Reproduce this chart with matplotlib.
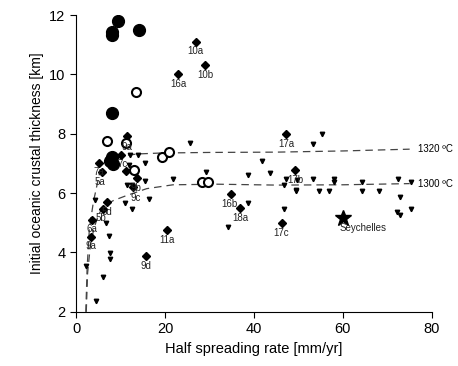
import numpy as np
import matplotlib
matplotlib.use("Agg")
import matplotlib.pyplot as plt

plt.rcParams['font.family'] = ['Liberation Sans', 'DejaVu Sans']

# filled circles
dot_x = [9.4, 8.0, 8.1, 14.2, 8.1, 7.6, 8.0, 8.2]
dot_y = [11.8, 11.44, 11.32, 11.5, 8.7, 7.08, 7.2, 6.98]

# open circles
ring_x = [6.9, 13.5, 11.2, 13.1, 19.3, 20.9, 28.3, 29.7]
ring_y = [7.77, 9.4, 7.68, 6.78, 7.21, 7.38, 6.38, 6.38]

# diamonds
dia_x = [26.9, 29.0, 23.0, 47.3, 49.2, 34.8, 36.9, 46.2, 20.4, 15.7,
         3.4, 3.7, 6.1, 7.0, 5.9, 5.2, 10.0, 11.5, 11.2, 13.6, 12.9]
dia_y = [11.1, 10.3, 10.0, 7.98, 6.79, 5.97, 5.49, 4.98, 4.77, 3.87,
         4.52, 5.08, 5.48, 5.69, 6.72, 7.02, 7.3, 7.94, 6.74, 6.52, 6.21]

# small triangles
tri_x = [25.7, 55.4, 53.3, 41.7, 38.7, 43.7, 29.2, 47.2, 49.6, 53.3, 58.0, 58.0,
         64.2, 72.3, 75.4, 46.8, 49.4, 54.7, 56.9, 64.2, 68.1, 72.8, 38.7, 46.8,
         75.4, 72.1, 72.8, 34.2, 21.9, 11.4, 12.5, 15.5, 11.0, 12.5, 16.3, 4.3,
         6.7, 7.3, 7.6, 7.6, 6.1, 4.6, 2.2, 12.1, 14.0, 12.0, 15.5, 49.4]
tri_y = [7.7, 7.98, 7.66, 7.07, 6.6, 6.69, 6.71, 6.48, 6.45, 6.48, 6.48, 6.37,
         6.37, 6.48, 6.37, 6.26, 6.07, 6.07, 6.07, 6.07, 6.07, 5.86, 5.67, 5.47,
         5.47, 5.36, 5.27, 4.85, 6.46, 6.27, 6.27, 6.41, 5.66, 5.47, 5.8, 5.76,
         4.98, 4.57, 3.97, 3.78, 3.17, 2.35, 3.55, 7.28, 7.28, 6.95, 7.0, 6.09]

# model curves
c1320_x = [2.2, 2.5, 3.0, 3.9, 5.4, 6.9, 9.9, 14, 19, 30, 45, 60, 75]
c1320_y = [2.0, 3.5, 4.8, 5.7, 6.75, 6.95, 7.25, 7.32, 7.35, 7.37, 7.38, 7.42, 7.48]
c1300_x = [2.3, 2.6, 3.2, 4.0, 5.0, 6.1, 8.4, 11.4, 15.9, 21.8, 31.6, 45, 60, 75]
c1300_y = [2.0, 3.3, 4.2, 4.8, 5.25, 5.55, 5.75, 5.92, 6.15, 6.28, 6.3, 6.27, 6.28, 6.32]

# point labels
lab_text = ['10a', '10b', '16a', '17a', '17b', '16b', '18a', '17c', '11a', '9d',
            '9a', '6a', '5b', '5d', '7a', '5a', '7c', '9a', '9b', '9c']
lab_x = [26.9, 29.1, 23.0, 47.3, 49.4, 34.4, 36.9, 46.2, 20.5, 15.7,
         3.4, 3.6, 5.7, 6.9, 5.1, 5.4, 10.4, 11.4, 13.5, 13.3]
lab_y = [10.79, 9.97, 9.69, 7.67, 6.45, 5.64, 5.15, 4.66, 4.43, 3.53,
         4.23, 4.79, 5.15, 5.37, 6.72, 6.38, 6.98, 7.56, 6.16, 5.82]

star_x, star_y = 60.1, 5.17

fig = plt.figure(figsize=(4.58, 3.66), dpi=100)
ax = fig.add_axes([0.166, 0.148, 0.777, 0.811])

ax.plot(c1320_x, c1320_y, ls=(0, (6, 4)), color='#444444', lw=0.9)
ax.plot(c1300_x, c1300_y, ls=(0, (6, 4)), color='#444444', lw=0.9)
ax.text(76.8, 7.49, '1320 ºC', fontsize=7, va='center', ha='left', clip_on=False)
ax.text(76.8, 6.3, '1300 ºC', fontsize=7, va='center', ha='left', clip_on=False)

for t, x, y in zip(lab_text, lab_x, lab_y):
    ax.text(x, y, t, fontsize=7, ha='center', va='center', color='#222222')

ax.plot(tri_x, tri_y, 'v', color='black', ms=3.2, ls='none')
ax.plot(dia_x, dia_y, 'D', color='black', ms=4, ls='none')
ax.plot(ring_x, ring_y, 'o', mfc='white', mec='black', mew=1.5, ms=6.5, ls='none')
ax.plot(dot_x, dot_y, 'o', color='black', ms=8.5, ls='none')
ax.plot([star_x], [star_y], '*', color='black', ms=12, ls='none')
ax.text(59.3, 4.83, 'Seychelles', fontsize=7, ha='left', va='center', color='#222222')

ax.set_xlim(0, 80)
ax.set_ylim(2, 12)
ax.set_xticks(np.arange(0, 81, 20))
ax.set_yticks(np.arange(2, 13, 2))
ax.tick_params(labelsize=10.5, length=4, width=0.8)
ax.spines['top'].set_visible(False)
ax.spines['right'].set_visible(False)
ax.set_xlabel('Half spreading rate [mm/yr]', fontsize=10.5)
ax.set_ylabel('Initial oceanic crustal thickness [km]', fontsize=10)

fig.savefig('out.png', dpi=100)
